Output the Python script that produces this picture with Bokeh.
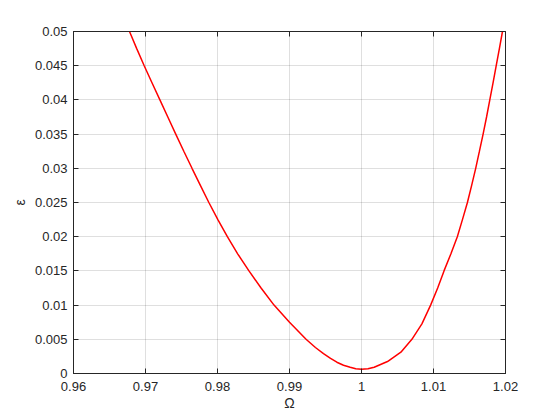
from bokeh.plotting import figure
from bokeh.models import Range1d, FixedTicker, LinearAxis, CustomJSTickFormatter
from bokeh.embed import file_html
from bokeh.resources import INLINE

# curve (Omega, epsilon)
omega = [0.96778, 0.96878, 0.96982, 0.97090, 0.97200, 0.97310, 0.97420,
         0.97532, 0.97646, 0.97762, 0.97880, 0.98005, 0.98137, 0.98280,
         0.98437, 0.98605, 0.98785, 0.99000, 0.99230, 0.99360, 0.99472,
         0.99570, 0.99658, 0.99750, 0.99843, 0.99920, 1.00000, 1.00090,
         1.00176, 1.00361, 1.00547, 1.00700, 1.00839, 1.00960, 1.01058,
         1.01146, 1.01242, 1.01331, 1.01402, 1.01471, 1.01530, 1.01586,
         1.01638, 1.01689, 1.01737, 1.01782, 1.01827, 1.01871, 1.01915,
         1.01958]
eps = [0.0500, 0.0475, 0.0450, 0.0425, 0.0400, 0.0375, 0.0350,
       0.0325, 0.0300, 0.0275, 0.0250, 0.0225, 0.0200, 0.0175,
       0.0150, 0.0125, 0.0100, 0.0075, 0.0050, 0.0038, 0.0029,
       0.0022, 0.00165, 0.0012, 0.00092, 0.00070, 0.00063, 0.00070,
       0.00092, 0.00175, 0.00311, 0.0050, 0.00726, 0.0100, 0.0125,
       0.0150, 0.0175, 0.0200, 0.0225, 0.0250, 0.0275, 0.0300,
       0.0325, 0.0350, 0.0375, 0.0400, 0.0425, 0.0450, 0.0475,
       0.0500]

xticks = [0.96, 0.97, 0.98, 0.99, 1.0, 1.01, 1.02]
xtick_labels = ["0.96", "0.97", "0.98", "0.99", "1", "1.01", "1.02"]
yticks = [0, 0.005, 0.01, 0.015, 0.02, 0.025, 0.03, 0.035, 0.04, 0.045, 0.05]
ytick_labels = ["0", "0.005", "0.01", "0.015", "0.02", "0.025", "0.03",
                "0.035", "0.04", "0.045", "0.05"]

DARK = "#262626"
FONT = "Liberation Sans"

p = figure(frame_width=432, frame_height=342,
           x_range=Range1d(0.96, 1.02), y_range=Range1d(0, 0.05),
           output_backend="svg", toolbar_location=None,
           min_border_left=73, min_border_top=31,
           min_border_right=40, min_border_bottom=40,
           background_fill_color="white", border_fill_color="white")
p.outline_line_color = DARK
p.outline_line_alpha = 1.0

p.line(omega, eps, line_color="#ff0000", line_width=1.5)

def style_axis(ax, ticks, labels=None):
    ax.ticker = FixedTicker(ticks=ticks)
    ax.minor_tick_line_color = None
    ax.major_tick_in = 5
    ax.major_tick_out = 0
    ax.major_tick_line_color = DARK
    ax.axis_line_color = DARK
    ax.major_label_text_color = DARK
    ax.major_label_text_font = FONT
    ax.major_label_text_font_size = "13px"
    ax.axis_label_text_color = DARK
    ax.axis_label_text_font = FONT
    ax.axis_label_text_font_style = "normal"
    ax.axis_label_text_font_size = "14px"
    if labels is not None:
        ax.major_label_overrides = {t: l for t, l in zip(ticks, labels)}

xa = p.xaxis[0]
style_axis(xa, xticks, xtick_labels)
xa.major_label_standoff = 8
xa.axis_label = "Ω"
xa.axis_label_standoff = 1

ya = p.yaxis[0]
style_axis(ya, yticks, ytick_labels)
ya.major_label_standoff = 6
ya.axis_label = "ε"
ya.axis_label_standoff = 4

top = LinearAxis()
style_axis(top, xticks)
top.formatter = CustomJSTickFormatter(code="return ''")
top.major_label_standoff = 0
p.add_layout(top, "above")

right = LinearAxis()
style_axis(right, yticks)
right.formatter = CustomJSTickFormatter(code="return ''")
right.major_label_standoff = 0
p.add_layout(right, "right")

p.xgrid.ticker = FixedTicker(ticks=xticks)
p.ygrid.ticker = FixedTicker(ticks=yticks)
p.grid.grid_line_color = DARK
p.grid.grid_line_alpha = 0.15

open("out.html", "w").write(file_html(p, INLINE))
